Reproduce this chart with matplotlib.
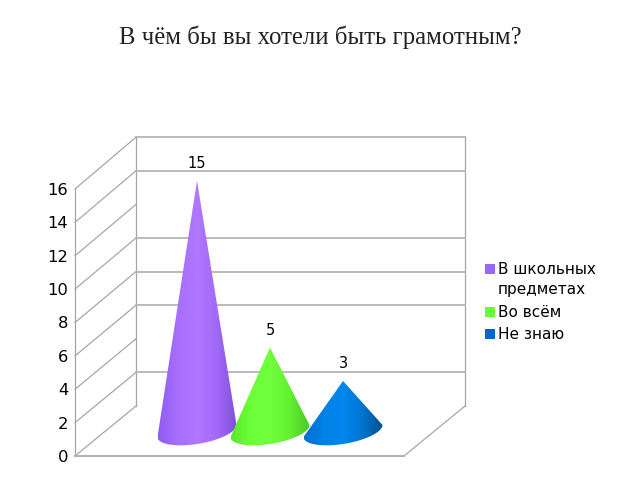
import numpy as np
import matplotlib
matplotlib.use('Agg')
import matplotlib.pyplot as plt
from matplotlib.colors import LinearSegmentedColormap
from matplotlib.patches import Polygon, Rectangle

# === Data ===
title = 'В чём бы вы хотели быть грамотным?'
categories = ['В школьных\nпредметах', 'Во всём', 'Не знаю']
values = [15, 5, 3]
legend_colors = ['#9966FF', '#66FF33', '#0066CC']
y_ticks = [0, 2, 4, 6, 8, 10, 12, 14, 16]
back_grid = [2, 6, 8, 10, 14, 16]

# cone shading, left edge to right edge
shades = [
    ['#8F5CF0', '#A86FFF', '#B077FF', '#A268FA', '#7F50D8'],
    ['#5CE82E', '#6CFF38', '#70FF3C', '#62F030', '#4CC828'],
    ['#0070D0', '#0082E6', '#0088EE', '#0074CE', '#00508E'],
]

# === Layout (pixels of the 640x480 picture) ===
W, H = 640, 480
LEFT, RIGHT, BOTTOM, TOP = 75, 404, 456, 189
DX, DY = 61, 50
SPACING = 73
FIRST = 197

fig = plt.figure(figsize=(6.4, 4.8), dpi=100)
fig.text(320 / W, 1 - 37 / H, title, ha='center', va='center', fontsize=17.8,
         family='Liberation Serif', color='#222222')

ax = fig.add_axes([LEFT / W, 1 - BOTTOM / H, (RIGHT - LEFT) / W, (BOTTOM - TOP) / H])
x_min = (LEFT - FIRST) / SPACING
x_max = (RIGHT - FIRST) / SPACING
y_unit = (BOTTOM - TOP) / 16
dx = DX / SPACING
dy = DY / y_unit
back_scale = 16.8 / y_unit  # back wall is drawn slightly taller than the front


def back_y(v):
    return dy + v * back_scale


# === Walls ===
wall = dict(color='#A6A6A6', lw=0.9, zorder=1, clip_on=False)
for v in y_ticks:
    ax.plot([x_min, x_min + dx], [v, back_y(v)], **wall)
ax.plot([x_min, x_min], [0, 16], **wall)
ax.plot([x_min + dx] * 2, [back_y(0), back_y(16)], **wall)
ax.plot([x_max + dx] * 2, [back_y(0), back_y(16)], **wall)
ax.plot([x_max, x_max + dx], [0, dy], **wall)
for v in back_grid:
    ax.plot([x_min + dx, x_max + dx], [back_y(v)] * 2, color='#B4B4B4', lw=1.3,
            zorder=1, clip_on=False)
ax.plot([x_min, x_max], [0, 0], color='#B4B4B4', lw=1.5, zorder=1, clip_on=False)

# === Cones ===
base_y = 25 / y_unit
half_w = 39.5 / SPACING
half_h = 13 / y_unit
tilt = 6 / y_unit
t = np.linspace(0, np.pi, 60)
for i, (val, cols) in enumerate(zip(values, shades)):
    ex = i - half_w * np.cos(t)
    ey = base_y - tilt * np.cos(t) - half_h * np.sin(t)
    pts = np.column_stack([np.append(ex, i), np.append(ey, base_y + val)])
    clip = Polygon(pts, closed=True, transform=ax.transData, facecolor='none', edgecolor='none')
    ax.add_patch(clip)
    cmap = LinearSegmentedColormap.from_list('cone', cols)
    im = ax.imshow(np.linspace(0, 1, 128).reshape(1, -1), cmap=cmap, aspect='auto',
                   extent=[i - half_w, i + half_w, 0, base_y + val + 0.2], zorder=3)
    im.set_clip_box(fig.bbox)
    im.set_clip_path(clip)
    ax.text(i, base_y + val + 1.05, str(val), ha='center', va='center', fontsize=10.5,
            color='black', zorder=4)

ax.set_xlim(x_min, x_max)
ax.set_ylim(0, 16)
ax.set_xticks([])
ax.set_yticks(y_ticks)
ax.tick_params(axis='y', length=0, pad=5, labelsize=11.8)
for s in ax.spines.values():
    s.set_visible(False)
ax.patch.set_visible(False)

# === Legend (square sits on the first line of a wrapped label) ===
legend_rows = [269, 312, 334]
for label, color, row in zip(categories, legend_colors, legend_rows):
    fig.add_artist(Rectangle((485 / W, 1 - (row + 5) / H), 10 / W, 10 / H, facecolor=color,
                             edgecolor='none', transform=fig.transFigure))
    fig.text(498 / W, 1 - (row - 7) / H, label, ha='left', va='top', fontsize=11.0,
             linespacing=1.4, color='black')

plt.savefig('out.png', dpi=100)
